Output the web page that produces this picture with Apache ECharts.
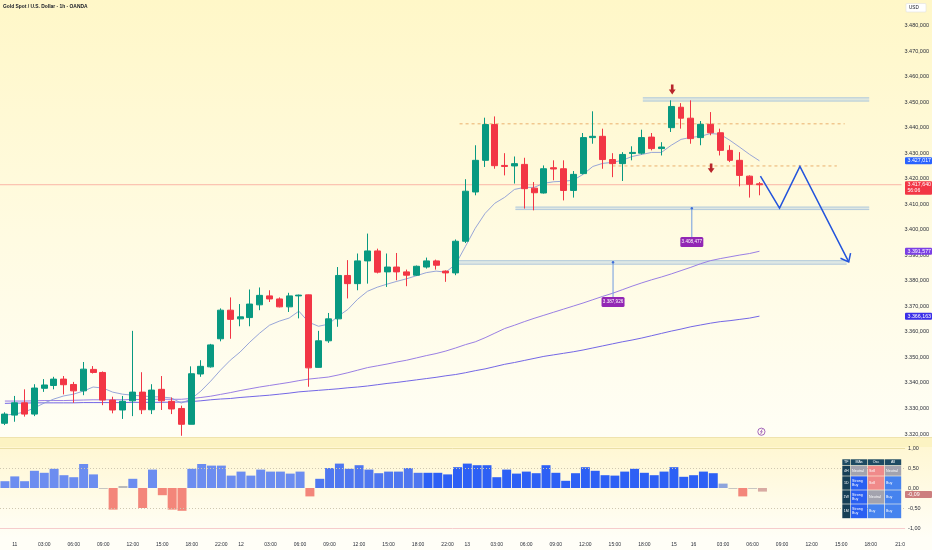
<!DOCTYPE html>
<html><head><meta charset="utf-8">
<script src="https://cdn.jsdelivr.net/npm/echarts@6/dist/echarts.min.js"></script>
<style>html,body{margin:0;padding:0;background:#fffdf2}#c{width:932px;height:550px}</style>
</head><body><div id="c"></div>
<script>
// ---------- data (candle index i = -1 .. 76) ----------
const opens  = [3324.2,3327.4,3332.2,3327.8,3337.9,3339.0,3341.5,3339.4,3336.9,3345.3,3344.1,3333.3,3329.4,3333.0,3336.4,3329.5,3337.5,3332.8,3330.0,3323.8,3343.5,3346.3,3357.3,3368.5,3365.1,3365.6,3370.6,3374.1,3372.9,3369.8,3374.1,3374.5,3346.1,3356.5,3365.1,3382.1,3378.9,3387.8,3391.7,3383.5,3385.4,3383.5,3382.2,3385.4,3387.8,3383.8,3383.1,3395.5,3414.8,3427.2,3441.2,3425.2,3425.0,3425.6,3416.3,3414.4,3424.3,3423.9,3415.4,3422.0,3436.1,3436.6,3427.5,3425.9,3429.9,3430.0,3436.3,3431.8,3440.0,3448.0,3443.7,3436.1,3441.3,3438.0,3431.1,3427.2,3421.0,3418.0];
const closes = [3327.8,3332.2,3327.8,3338.0,3339.2,3341.5,3339.3,3336.9,3345.4,3344.1,3333.3,3329.4,3332.8,3336.4,3329.5,3337.2,3333.0,3329.8,3323.8,3343.6,3346.5,3354.9,3368.5,3364.9,3365.9,3370.9,3374.3,3372.9,3369.8,3374.1,3374.4,3345.9,3356.5,3365.1,3382.1,3378.9,3387.8,3391.7,3383.4,3385.4,3383.5,3382.2,3385.7,3387.8,3386.1,3383.1,3395.5,3415.1,3427.2,3441.2,3425.1,3424.8,3425.9,3416.1,3414.5,3423.9,3423.8,3415.4,3421.7,3436.1,3436.6,3427.5,3425.9,3429.5,3430.3,3436.1,3431.8,3432.4,3448.3,3443.7,3435.7,3441.3,3438.0,3431.1,3427.2,3421.3,3417.8,3417.64];
const lows   = [3323.5,3324.8,3326.8,3327.0,3336.5,3337.5,3335.5,3332.2,3335.2,3343.7,3331.3,3328.1,3325.9,3327.0,3327.8,3327.8,3329.4,3327.8,3319.3,3323.8,3342.4,3346.0,3356.3,3357.3,3362.2,3362.2,3368.5,3371.7,3369.6,3367.8,3365.3,3338.5,3346.0,3355.7,3362.0,3373.1,3376.3,3378.9,3382.9,3377.6,3380.2,3377.9,3381.9,3384.8,3384.4,3379.6,3382.2,3394.8,3413.5,3424.6,3423.9,3421.3,3418.1,3408.3,3407.6,3414.2,3419.4,3411.5,3412.6,3421.7,3433.7,3423.9,3420.6,3419.1,3427.2,3429.5,3431.1,3429.1,3438.3,3439.6,3433.7,3433.1,3437.0,3429.1,3426.5,3417.0,3412.6,3413.5];
const highs  = [3328.5,3334.9,3337.5,3339.5,3341.5,3342.4,3342.7,3340.4,3348.2,3346.6,3344.5,3334.6,3334.9,3360.4,3344.2,3339.5,3342.7,3334.3,3331.1,3346.5,3348.9,3355.3,3369.2,3373.5,3370.9,3376.6,3377.4,3376.3,3373.5,3375.3,3374.6,3374.6,3360.4,3367.4,3385.4,3388.1,3390.7,3398.5,3392.6,3390.7,3390.9,3384.4,3386.0,3389.1,3388.3,3384.1,3396.2,3419.8,3433.1,3443.9,3444.4,3430.0,3428.7,3428.2,3418.7,3425.2,3427.2,3427.2,3423.0,3437.9,3446.4,3439.6,3430.0,3430.4,3432.7,3439.2,3437.9,3434.3,3450.7,3449.6,3450.7,3442.6,3446.1,3439.6,3433.1,3430.4,3421.3,3418.7];
const maFast = [3327.4,3327.8,3328.6,3330.2,3332.1,3333.7,3334.9,3335.6,3336.8,3338.4,3338.0,3336.4,3335.6,3335.2,3334.9,3334.6,3334.5,3334.1,3332.1,3333.7,3336.8,3340.7,3345.0,3348.9,3352.1,3356.0,3359.5,3362.6,3364.2,3365.4,3368.1,3363.8,3362.2,3363.0,3366.1,3368.8,3372.8,3375.9,3377.5,3378.7,3379.8,3380.8,3382.0,3383.2,3383.8,3383.4,3386.5,3393.5,3400.6,3406.4,3410.4,3412.7,3415.8,3416.6,3416.6,3418.2,3418.8,3419.0,3419.4,3421.7,3424.8,3426.0,3426.4,3427.2,3428.7,3429.5,3430.3,3430.3,3433.1,3435.4,3436.2,3436.6,3437.7,3437.4,3435.0,3432.3,3429.5,3427.017];
const maMid  = [3332.9,3332.9,3332.9,3333.0,3333.1,3333.1,3333.1,3333.2,3333.3,3333.4,3333.4,3333.4,3333.4,3333.5,3333.5,3333.6,3333.6,3333.6,3333.6,3333.9,3334.3,3334.8,3335.5,3336.2,3337.0,3337.7,3338.4,3339.0,3339.6,3340.2,3340.9,3341.5,3341.9,3342.3,3343.1,3344.0,3345.0,3346.0,3346.7,3347.4,3348.2,3348.9,3349.8,3350.7,3351.5,3352.5,3353.7,3355.0,3356.1,3357.7,3359.5,3361.3,3362.6,3364.0,3365.3,3366.5,3367.7,3368.9,3370.1,3371.3,3372.6,3373.9,3375.1,3376.5,3377.9,3379.2,3380.4,3381.5,3382.7,3384.0,3385.3,3386.7,3387.9,3388.7,3389.4,3390.1,3390.7,3391.577];
const maSlow = [3332.0,3332.1,3332.1,3332.2,3332.2,3332.2,3332.2,3332.2,3332.3,3332.3,3332.3,3332.3,3332.3,3332.4,3332.4,3332.4,3332.4,3332.5,3332.5,3332.7,3333.0,3333.4,3333.7,3333.9,3334.3,3334.6,3334.9,3335.2,3335.6,3336.0,3336.5,3336.8,3337.1,3337.4,3337.7,3338.1,3338.4,3338.8,3339.3,3339.8,3340.2,3340.7,3341.2,3341.7,3342.2,3342.8,3343.3,3344.0,3344.8,3345.5,3346.4,3347.3,3348.0,3348.8,3349.6,3350.4,3351.0,3351.6,3352.2,3352.9,3353.7,3354.5,3355.3,3356.1,3356.8,3357.6,3358.5,3359.4,3360.3,3361.1,3362.0,3362.7,3363.4,3364.0,3364.4,3364.9,3365.4,3366.163];
const osc    = [0.17,0.29,0.17,0.43,0.38,0.48,0.32,0.27,0.60,0.34,-0.02,-0.54,0.05,0.23,-0.50,0.46,-0.18,-0.54,-0.57,0.48,0.60,0.56,0.56,0.31,0.41,0.31,0.46,0.41,0.41,0.36,0.41,-0.21,0.23,0.50,0.61,0.48,0.57,0.46,0.37,0.41,0.41,0.50,0.38,0.38,0.38,0.34,0.52,0.61,0.57,0.57,0.27,0.46,0.36,0.41,0.37,0.57,0.38,0.18,0.37,0.52,0.43,0.32,0.31,0.41,0.48,0.38,0.32,0.41,0.52,0.28,0.32,0.41,0.37,0.11,-0.02,-0.21,-0.02,-0.09];

// time axis labels (candle index -> text)
const tickIdx  = [0,3,6,9,12,15,18,21,23,26,29,32,35,38,41,44,46,49,52,55,58,61,64,67,69,72,75,78,81,84,87,90];
const tickText = ['11','03:00','06:00','09:00','12:00','15:00','18:00','22:00','12','03:00','06:00','09:00','12:00','15:00','18:00','22:00','13','03:00','06:00','09:00','12:00','15:00','18:00','15','16','03:00','06:00','09:00','12:00','15:00','18:00','21:0'];

// drawings, in (candle index, price)
const zones   = [[64.1,87.2,3450.4,3451.7],[51.1,87.2,3407.9,3408.9],[45.1,84.9,3386.5,3387.9]];
const dashes  = [[45.4,84.7,3441.5],[61.0,83.9,3425.0]];
const measures = [[69.1,3408.4,3397.1,3395.2],[61.06,3387.3,3373.6,3371.7]];
const measureText = ['3.408,477','3.387,926'];
const downArrows = [[67.1,3456.9,3453.0],[71.07,3426.0,3422.2]];
const projection = [[76.1,3421.0],[78.05,3408.5],[80.13,3424.8],[85.11,3387.4]];

const tableHead = ['TF','MAs','Osc','All'];
const tableRows = [['4H','Neutral','Sell','Neutral'],['1D','Strong Buy','Sell','Buy'],['1W','Strong Buy','Neutral','Buy'],['1M','Strong Buy','Buy','Buy']];

// ---------- build ----------
const categories = [];
function addDay(d, hours){ hours.forEach(h => categories.push(d + ' ' + String(h).padStart(2,'0') + ':00')); }
const fullDay = [...Array(24).keys()].filter(h => h !== 21);
addDay('10',[23]); addDay('11',fullDay); addDay('12',fullDay);
addDay('13',[...Array(21).keys()]); addDay('15',[22,23]); addDay('16',[...Array(22).keys()]);

const candles = opens.map((o,k) => [o, closes[k], lows[k], highs[k]]);
const tickMap = {}; tickIdx.forEach((t,k) => tickMap[t + 1] = tickText[k]);

function fmt(v, d){
  const neg = v < 0; const s = Math.abs(v).toFixed(d).split('.');
  return (neg ? '-' : '') + s[0].replace(/\B(?=(\d{3})+(?!\d))/g, '.') + (s[1] ? ',' + s[1] : '');
}
function oscColor(i, v){
  if (Math.abs(v) < 0.06) return '#b9b9b9';
  if (v < 0) return v > -0.12 ? '#d8aaa2' : '#f3867a';
  if (v < 0.15) return '#8ea4dc';
  if (i < 31) return '#6c8df0';
  if (i < 42) return '#4f77f0';
  return '#2d60f5';
}
const FONT = "'Liberation Sans Narrow','Liberation Sans',Arial,sans-serif";
const GL = -6.87, GW = 911.97;

const chart = echarts.init(document.getElementById('c'), null, {width:932, height:550});
chart.setOption({
  animation: false,
  grid: [
    {left: GL, top: -0.56, width: GW, height: 460.08},
    {left: GL, top: 438, width: GW, height: 100}
  ],
  xAxis: [
    {type:'category', gridIndex:0, data:categories, boundaryGap:true, show:false},
    {type:'value', gridIndex:0, min:-1.5, max:90.5, show:false},
    {type:'category', gridIndex:1, data:categories, boundaryGap:true,
     axisLine:{show:false}, axisTick:{show:false}, splitLine:{show:false},
     axisLabel:{interval:(idx) => tickMap[idx] !== undefined, formatter:(v, idx) => tickMap[idx] || '',
       fontSize:5, color:'#2a2e39', margin:4, fontFamily:FONT}}
  ],
  yAxis: [
    {type:'value', gridIndex:0, position:'right', min:3310, max:3490, interval:10,
     axisLine:{show:false}, axisTick:{show:false}, splitLine:{show:false},
     axisLabel:{margin:3, fontSize:5.5, color:'#2a2e39', fontFamily:FONT,
       formatter:(v) => { const r = Math.round(v); return (r >= 3320 && r <= 3480) ? fmt(r,3) : ''; }}},
    {type:'value', gridIndex:1, position:'right', min:-1.25, max:1.25, interval:0.25,
     axisLine:{show:false}, axisTick:{show:false}, splitLine:{show:false},
     axisLabel:{margin:3, fontSize:5.5, color:'#2a2e39', fontFamily:FONT,
       formatter:(v) => { const t = Math.round(v*4); return (t % 2 === 0 && Math.abs(v) <= 1.0001) ? fmt(t/4,2) : ''; }}}
  ],
  series: [
    {type:'line', xAxisIndex:0, yAxisIndex:0, data:maSlow, symbol:'none', z:2, lineStyle:{color:'#7467e6', width:1}},
    {type:'line', xAxisIndex:0, yAxisIndex:0, data:maMid, symbol:'none', z:2, lineStyle:{color:'#9a7fe4', width:1}},
    {type:'line', xAxisIndex:0, yAxisIndex:0, data:maFast, symbol:'none', z:2, lineStyle:{color:'#8c9cd6', width:0.9}},
    {type:'candlestick', xAxisIndex:0, yAxisIndex:0, data:candles, barWidth:6.4, z:4,
     itemStyle:{color:'#089981', color0:'#f23645', borderColor:'#089981', borderColor0:'#f23645', borderWidth:1}},
    {type:'bar', xAxisIndex:2, yAxisIndex:1, data:osc, barWidth:9, z:3,
     itemStyle:{color:(p) => oscColor(p.dataIndex - 1, p.value)},
     markLine:{silent:true, symbol:'none', label:{show:false}, animation:false, data:[
       {yAxis:1, lineStyle:{color:'#eadfa6', type:'solid', width:1}},
       {yAxis:0.5, lineStyle:{color:'#cfc8b0', type:[1,2], width:1}},
       {yAxis:-0.5, lineStyle:{color:'#cfc8b0', type:[1,2], width:1}},
       {yAxis:-1, lineStyle:{color:'#f6cccc', type:'solid', width:1}}]}},
    // current price line
    {type:'line', xAxisIndex:1, yAxisIndex:0, symbol:'none', z:1, silent:true,
     data:[[-1.5, closes[closes.length-1]], [90.5, closes[closes.length-1]]],
     lineStyle:{color:'rgba(242,54,69,0.35)', width:1}},
    // zones
    {type:'custom', xAxisIndex:1, yAxisIndex:0, data:zones, encode:{x:[0,1], y:[2,3]}, z:1, silent:true,
     renderItem:(params, api) => {
       const a = api.coord([api.value(0), api.value(3)]);
       const b = api.coord([api.value(1), api.value(2)]);
       return {type:'group', children:[
         {type:'rect', shape:{x:a[0], y:a[1], width:b[0]-a[0], height:b[1]-a[1]}, style:{fill:'rgba(200,218,228,0.6)'}},
         {type:'line', shape:{x1:a[0], y1:a[1], x2:b[0], y2:a[1]}, style:{stroke:'#b3cadb', lineWidth:1}},
         {type:'line', shape:{x1:a[0], y1:b[1], x2:b[0], y2:b[1]}, style:{stroke:'#b3cadb', lineWidth:1}}]};
     }},
    // dashed levels
    {type:'custom', xAxisIndex:1, yAxisIndex:0, data:dashes, encode:{x:[0,1], y:2}, z:1, silent:true,
     renderItem:(params, api) => {
       const a = api.coord([api.value(0), api.value(2)]);
       const b = api.coord([api.value(1), api.value(2)]);
       return {type:'line', shape:{x1:a[0], y1:a[1], x2:b[0], y2:b[1]}, style:{stroke:'#e8a862', lineWidth:0.9, lineDash:[3,3]}};
     }},
    // measure labels
    {type:'custom', xAxisIndex:1, yAxisIndex:0, data:measures, encode:{x:0, y:[1,2,3]}, z:5, silent:true,
     renderItem:(params, api) => {
       const t = api.coord([api.value(0), api.value(1)]);
       const b = api.coord([api.value(0), api.value(2)]);
       const l = api.coord([api.value(0), api.value(3)]);
       return {type:'group', children:[
         {type:'line', shape:{x1:t[0], y1:t[1], x2:b[0], y2:b[1]}, style:{stroke:'#6f9be0', lineWidth:1}},
         {type:'circle', shape:{cx:t[0], cy:t[1], r:1.2}, style:{fill:'#3f6fd8'}},
         {type:'rect', shape:{x:l[0]-11.5, y:l[1]-5, width:23, height:10, r:1.5}, style:{fill:'#9226b4'}},
         {type:'text', x:l[0], y:l[1], style:{text:measureText[params.dataIndex], fill:'#fff', fontSize:4.6, fontFamily:FONT, align:'center', verticalAlign:'middle'}}]};
     }},
    // down arrows
    {type:'custom', xAxisIndex:1, yAxisIndex:0, data:downArrows, encode:{x:0, y:[1,2]}, z:5, silent:true,
     renderItem:(params, api) => {
       const t = api.coord([api.value(0), api.value(1)]);
       const p = api.coord([api.value(0), api.value(2)]);
       const x = t[0], y0 = t[1], y1 = p[1], m = y0 + (y1 - y0) * 0.5;
       return {type:'polygon', shape:{points:[[x-1.3,y0],[x+1.3,y0],[x+1.3,m],[x+3.4,m],[x,y1],[x-3.4,m],[x-1.3,m]]}, style:{fill:'#b8252b'}};
     }},
    // projection path
    {type:'custom', xAxisIndex:1, yAxisIndex:0, data:projection, encode:{x:0, y:1}, z:5, silent:true,
     renderItem:(params, api) => {
       if (params.dataIndex !== 0) return null;
       const pts = projection.map(q => api.coord(q));
       const e = pts[pts.length-1], s = pts[pts.length-2];
       const ang = Math.atan2(s[1]-e[1], s[0]-e[0]), L = 9, w = 0.68;
       return {type:'group', children:[
         {type:'polyline', shape:{points:pts}, style:{stroke:'#2354dc', lineWidth:1.5, fill:null}},
         {type:'polyline', shape:{points:[[e[0]+L*Math.cos(ang+w), e[1]+L*Math.sin(ang+w)], e, [e[0]+L*Math.cos(ang-w), e[1]+L*Math.sin(ang-w)]]}, style:{stroke:'#2354dc', lineWidth:1.5, fill:null}}]};
     }}
  ]
});

// ---------- overlays ----------
const yMain = v => chart.convertToPixel({yAxisIndex:0}, v);
const ySub = v => chart.convertToPixel({yAxisIndex:1}, v);
const xIdx = v => chart.convertToPixel({xAxisIndex:1}, v);
const g = [];
// backgrounds
g.push({type:'rect', z:-10, silent:true, shape:{x:0, y:0, width:932, height:437},
  style:{fill:new echarts.graphic.LinearGradient(0,0,0,1,[{offset:0,color:'#fff7c8'},{offset:0.55,color:'#fffbe2'},{offset:1,color:'#fffef5'}])}});
g.push({type:'rect', z:-10, silent:true, shape:{x:0, y:437, width:932, height:10}, style:{fill:'#fcf3c2'}});
g.push({type:'rect', z:-10, silent:true, shape:{x:0, y:447, width:932, height:91},
  style:{fill:new echarts.graphic.LinearGradient(0,0,0,1,[{offset:0,color:'#fff7d3'},{offset:1,color:'#fffef7'}])}});
g.push({type:'rect', z:-10, silent:true, shape:{x:0, y:538, width:932, height:12}, style:{fill:'#fffef7'}});
g.push({type:'line', z:-9, silent:true, shape:{x1:0, y1:437.5, x2:932, y2:437.5}, style:{stroke:'#efe3ae', lineWidth:1}});
// title
g.push({type:'text', z:20, x:3, y:4, style:{text:'Gold Spot / U.S. Dollar · 1h · OANDA', fill:'#131722', fontSize:4.9, fontWeight:'bold', fontFamily:FONT}});
// USD box
g.push({type:'rect', z:20, shape:{x:906, y:3.5, width:20, height:8.5, r:1}, style:{fill:'#ffffff', stroke:'#e0e0e0', lineWidth:0.6}});
g.push({type:'text', z:21, x:909, y:7.8, style:{text:'USD', fill:'#131722', fontSize:4.6, fontFamily:FONT, verticalAlign:'middle'}});
// price tags
function tag(y, txt, color, txt2){
  const h = txt2 ? 13.5 : 7;
  g.push({type:'rect', z:20, shape:{x:905, y:y-3.5, width:27, height:h, r:1}, style:{fill:color}});
  g.push({type:'text', z:21, x:907.5, y:y, style:{text:txt, fill:'#fff', fontSize:5.3, fontFamily:FONT, verticalAlign:'middle'}});
  if (txt2) g.push({type:'text', z:21, x:907.5, y:y+6.3, style:{text:txt2, fill:'#fff', fontSize:5.1, fontFamily:FONT, verticalAlign:'middle'}});
}
const last = maFast.length - 1;
tag(yMain(maFast[last]), fmt(maFast[last],3), '#2962ff');
tag(yMain(closes[last]), fmt(closes[last],3), '#f23645', '56:06');
tag(yMain(maMid[last]), fmt(maMid[last],3), '#7b3fe4');
tag(yMain(maSlow[last]), fmt(maSlow[last],3), '#3a2ee8');
tag(ySub(osc[last]) + 3, fmt(osc[last],2), '#cc7e7e');
// event icon
const ix = xIdx(last - 1 + 0.2);
g.push({type:'circle', z:20, shape:{cx:ix, cy:431.7, r:3.6}, style:{fill:'#fffdf2', stroke:'#8e44ad', lineWidth:0.8}});
g.push({type:'polyline', z:21, shape:{points:[[ix+0.9,429.3],[ix-0.9,432],[ix+0.9,431.6],[ix-0.9,434.2]]}, style:{stroke:'#8e44ad', lineWidth:0.7, fill:null}});
// table
const colX = [842, 850.5, 867.5, 884.5, 901.5];
const rowY = [459, 465.5, 476, 490, 504, 518.5];
const cellColor = {'Neutral':'#a3a3ae', 'Sell':'#f08a8a', 'Strong Buy':'#2a5ff2', 'Buy':'#4683ee'};
const rows = [tableHead].concat(tableRows);
rows.forEach((r, ri) => r.forEach((txt, ci) => {
  const x0 = colX[ci], x1 = colX[ci+1], y0 = rowY[ri], y1 = rowY[ri+1];
  const head = ri === 0, tf = ci === 0;
  const fill = head ? '#1d4a62' : (tf ? '#173f56' : cellColor[txt]);
  g.push({type:'rect', z:20, shape:{x:x0+0.3, y:y0+0.3, width:x1-x0-0.6, height:y1-y0-0.6}, style:{fill:fill}});
  const center = head || tf;
  g.push({type:'text', z:21, x: center ? (x0+x1)/2 : x0+1.6, y:(y0+y1)/2,
    style:{text: txt.replace(' ', '\n'), fill:'#ffffff', fontSize:3.6, lineHeight:4, fontFamily:FONT, align: center ? 'center' : 'left', verticalAlign:'middle'}});
}));
chart.setOption({graphic: g});
</script></body></html>
